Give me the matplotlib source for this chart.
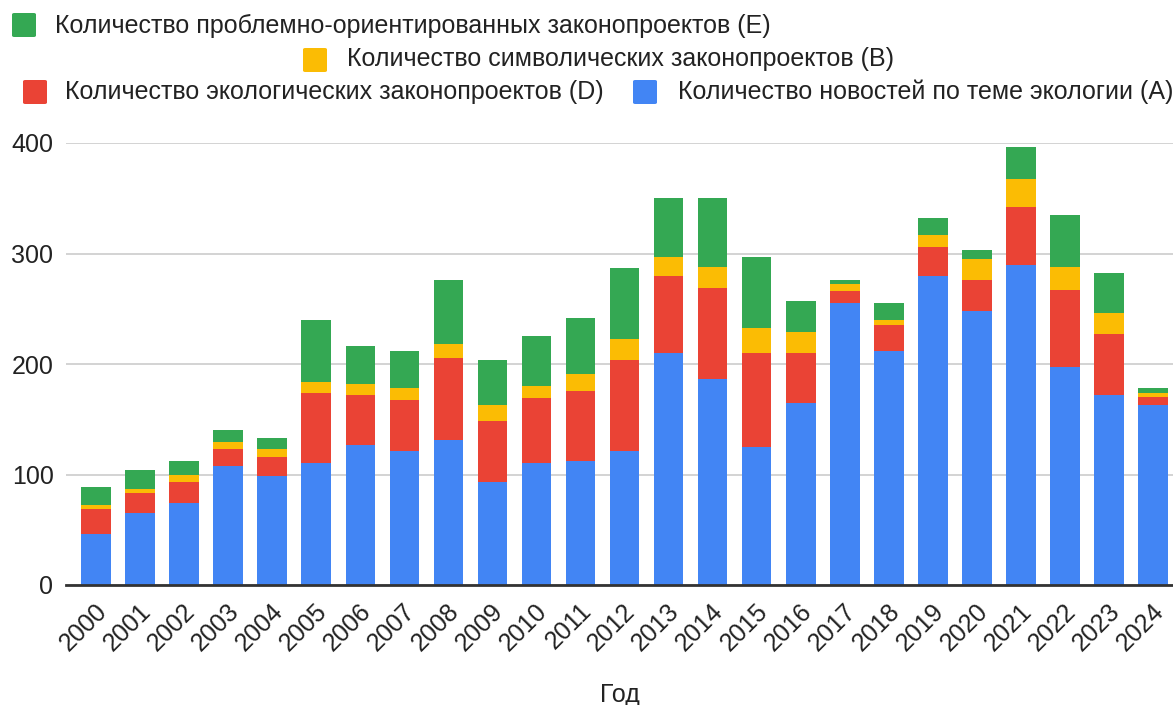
import numpy as np
import matplotlib

matplotlib.use('Agg')
import matplotlib.pyplot as plt
import matplotlib.transforms as mtransforms
from matplotlib.patches import FancyBboxPatch

plt.rcParams['font.family'] = ['Liberation Sans', 'DejaVu Sans']

years = [str(y) for y in range(2000, 2025)]
# A - новости, D - экологические, B - символические, E - проблемно-ориентированные
news_a = [46, 65, 74, 108, 99, 110, 127, 121, 131, 93, 110, 112, 121, 210, 186, 125, 165,
          255, 212, 280, 248, 290, 197, 172, 163]
eco_d = [23, 18, 19, 15, 17, 64, 45, 46, 74, 55, 59, 64, 83, 70, 83, 85, 45,
         11, 23, 26, 28, 52, 70, 55, 7]
symb_b = [3, 4, 7, 6, 7, 10, 10, 11, 13, 15, 11, 15, 19, 17, 19, 23, 19,
          6, 5, 11, 19, 25, 21, 19, 4]
prob_e = [17, 17, 12, 11, 10, 56, 34, 34, 58, 41, 45, 51, 64, 53, 62, 64, 28,
          4, 15, 15, 8, 29, 47, 36, 4]

series = [
    (news_a, '#4285F4', 'Количество новостей по теме экологии (A)'),
    (eco_d, '#EA4335', 'Количество экологических законопроектов (D)'),
    (symb_b, '#FBBC04', 'Количество символических законопроектов (B)'),
    (prob_e, '#34A853', 'Количество проблемно-ориентированных законопроектов (E)'),
]

fig = plt.figure(figsize=(11.73, 7.05), dpi=100)
ax = fig.add_axes([66 / 1173, 1 - 585 / 705, 1 - 66 / 1173, (585 - 143) / 705])

x = np.arange(len(years))
bottom = np.zeros(len(years))
for vals, color, label in series:
    ax.bar(x, vals, width=0.67, bottom=bottom, color=color, linewidth=0, zorder=2)
    bottom += np.array(vals)

ax.set_xlim(-0.68, 24.45)
ax.set_ylim(0, 400)
ax.set_yticks([0, 100, 200, 300, 400])
ax.grid(axis='y', color='#cccccc', linewidth=1.2, zorder=0)
ax.set_axisbelow(True)
for side in ['top', 'right', 'left']:
    ax.spines[side].set_visible(False)
ax.spines['bottom'].set_color('#333333')
ax.spines['bottom'].set_linewidth(2)
ax.spines['bottom'].set_zorder(3)
ax.tick_params(length=0, labelsize=18, colors='#222222', pad=9)
ax.tick_params(axis='x', pad=16)
ax.set_xticks(x)
ax.set_xticklabels(years, rotation=45, ha='right', va='center', rotation_mode='anchor')
shift = mtransforms.ScaledTranslation(7 / 100, 0, fig.dpi_scale_trans)
for lbl in ax.get_xticklabels():
    lbl.set_transform(lbl.get_transform() + shift)
ax.set_xlabel('Год', fontsize=18, color='#222222', labelpad=20)

# ручная легенда в три строки
legend_pos = [
    (3, 12, 13, 55, 26),
    (2, 303, 48, 347, 59),
    (1, 23, 80, 65, 92),
    (0, 633, 80, 678, 92),
]
W, H = 1173, 705
for idx, sx, sy, tx, ty in legend_pos:
    color, label = series[idx][1], series[idx][2]
    box = FancyBboxPatch((sx / W, 1 - (sy + 24) / H), 24 / W, 24 / H,
                         boxstyle='round,pad=0,rounding_size=0.002',
                         transform=fig.transFigure, facecolor=color, edgecolor='none')
    fig.patches.append(box)
    fig.text(tx / W, 1 - ty / H, label, fontsize=18, color='#222222', va='center', ha='left')

fig.savefig('out.png', dpi=100)
